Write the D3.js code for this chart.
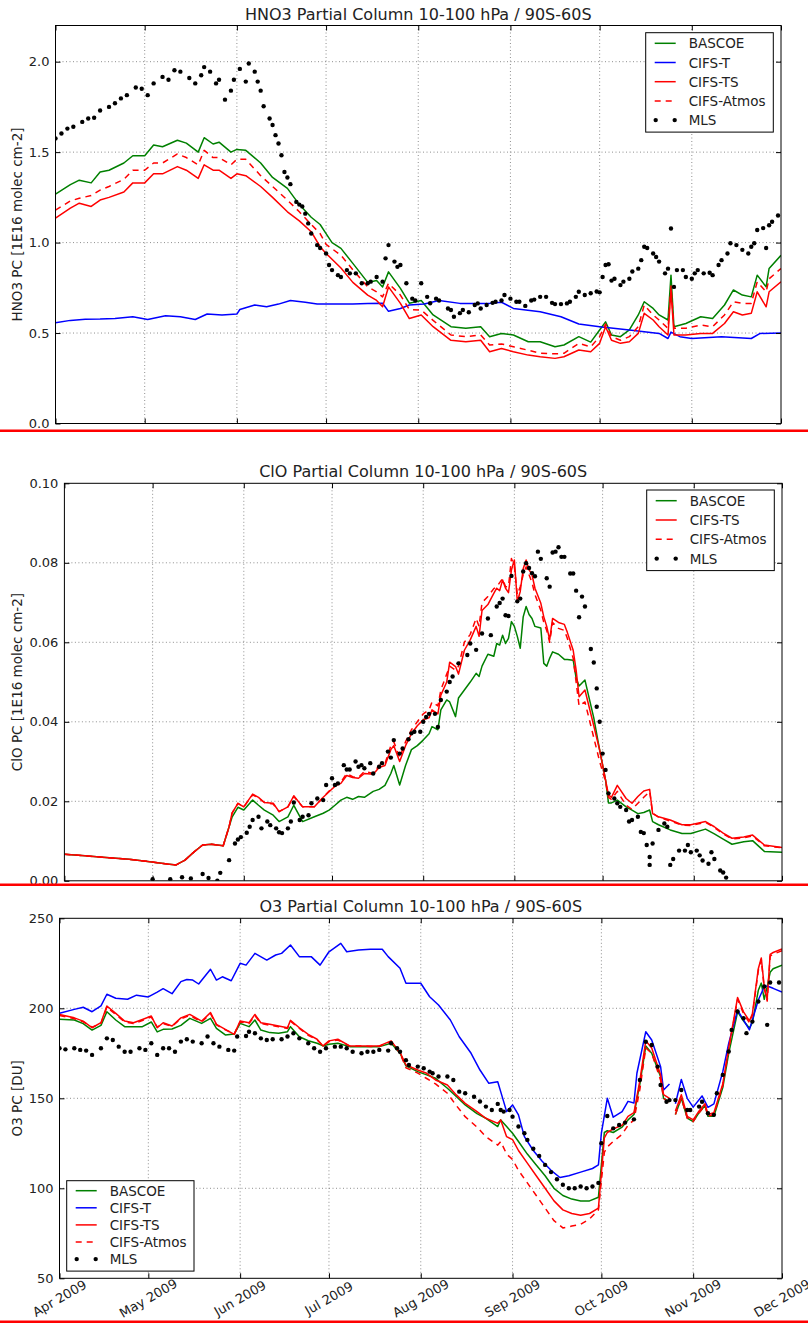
<!DOCTYPE html>
<html>
<head>
<meta charset="utf-8">
<script src="https://cdn.jsdelivr.net/npm/d3@7"></script>
<style>
  body { margin: 0; background: #fff; }
  svg text { font-family: "DejaVu Sans", sans-serif; fill: #222; }
</style>
</head>
<body>
<svg id="fig" width="808" height="1324"></svg>
<script>
// days are counted from 1 Apr 2009
var startDate = new Date(2009, 3, 1),
    endDate = new Date(2009, 11, 1);

// ---------- HNO3 ----------
var hno3Bascoe = [[0,1.268],[5,1.32],[8,1.345],[12,1.33],[15,1.39],[18,1.40],[23,1.44],[26,1.48],[30,1.48],[33,1.54],[36,1.53],[41,1.566],[44,1.55],[48,1.50],[50,1.58],[53,1.545],[55,1.555],[59,1.50],[61,1.515],[64,1.51],[69,1.44],[73,1.36],[78,1.30],[82,1.21],[86,1.14],[89,1.10],[91,1.05],[93,1.0],[96,0.968],[100,0.885],[105,0.78],[108,0.79],[110,0.755],[112,0.838],[116,0.747],[119,0.665],[123,0.68],[127,0.60],[133,0.535],[138,0.526],[143,0.535],[146,0.48],[150,0.498],[154,0.489],[159,0.452],[163,0.452],[168,0.424],[171,0.434],[176,0.48],[180,0.45],[183,0.517],[185,0.562],[187,0.489],[190,0.48],[193,0.517],[196,0.60],[198,0.673],[201,0.636],[203,0.60],[206,0.572],[207,0.82],[208,0.535],[212,0.553],[217,0.59],[221,0.581],[225,0.655],[228,0.738],[231,0.71],[234,0.70],[236,0.82],[239,0.755],[240,0.857],[244,0.93]];
var hno3CifsT = [[0,0.557],[5,0.57],[10,0.576],[15,0.577],[20,0.58],[26,0.59],[31,0.575],[37,0.595],[42,0.59],[47,0.575],[51,0.605],[56,0.60],[61,0.605],[62,0.63],[67,0.655],[71,0.645],[75,0.66],[79,0.68],[84,0.67],[88,0.66],[94,0.66],[100,0.66],[105,0.664],[110,0.665],[112,0.62],[116,0.636],[119,0.655],[124,0.66],[129,0.68],[136,0.664],[146,0.664],[150,0.67],[154,0.636],[163,0.618],[170,0.59],[176,0.55],[183,0.535],[193,0.517],[203,0.498],[206,0.47],[207,0.505],[210,0.48],[214,0.47],[224,0.48],[234,0.47],[237,0.498],[244,0.50]];
var hno3CifsTS = [[0,1.135],[5,1.19],[8,1.218],[12,1.20],[15,1.235],[18,1.25],[23,1.28],[26,1.33],[30,1.33],[33,1.38],[36,1.38],[41,1.42],[44,1.40],[48,1.355],[50,1.43],[53,1.40],[55,1.40],[59,1.355],[61,1.38],[64,1.37],[69,1.31],[73,1.25],[78,1.17],[82,1.12],[86,1.06],[89,0.977],[91,0.94],[96,0.86],[100,0.78],[105,0.71],[108,0.68],[110,0.645],[112,0.755],[116,0.664],[119,0.58],[123,0.60],[127,0.535],[133,0.46],[138,0.452],[143,0.46],[146,0.397],[150,0.415],[154,0.397],[159,0.378],[163,0.369],[168,0.36],[171,0.369],[176,0.406],[180,0.397],[183,0.443],[185,0.535],[187,0.46],[190,0.443],[193,0.452],[196,0.498],[198,0.609],[201,0.572],[203,0.535],[206,0.489],[207,0.738],[208,0.489],[212,0.489],[217,0.498],[221,0.498],[225,0.553],[228,0.618],[231,0.60],[234,0.609],[236,0.728],[239,0.645],[240,0.728],[244,0.783]];
var hno3CifsAtmos = [[0,1.18],[5,1.23],[8,1.245],[12,1.26],[15,1.29],[18,1.31],[23,1.35],[26,1.40],[30,1.40],[33,1.44],[36,1.44],[41,1.49],[44,1.47],[48,1.43],[50,1.51],[53,1.47],[55,1.47],[59,1.43],[61,1.46],[64,1.46],[69,1.37],[73,1.31],[78,1.235],[82,1.17],[86,1.10],[89,1.05],[91,0.99],[96,0.93],[100,0.85],[105,0.755],[108,0.728],[110,0.70],[112,0.775],[116,0.71],[119,0.63],[123,0.627],[127,0.57],[133,0.489],[138,0.48],[143,0.489],[146,0.434],[150,0.44],[154,0.424],[159,0.405],[163,0.388],[168,0.385],[171,0.388],[176,0.443],[180,0.424],[183,0.48],[185,0.55],[187,0.48],[190,0.46],[193,0.48],[196,0.535],[198,0.655],[201,0.60],[203,0.572],[206,0.526],[207,0.76],[208,0.526],[212,0.526],[217,0.544],[221,0.535],[225,0.60],[228,0.673],[231,0.664],[234,0.664],[236,0.783],[239,0.728],[240,0.80],[244,0.857]];
var hno3Mls = [[0,1.576],[2,1.603],[4,1.63],[6,1.64],[9,1.667],[11,1.686],[13,1.69],[15,1.73],[18,1.75],[20,1.77],[22,1.797],[24,1.815],[27,1.857],[29,1.85],[31,1.815],[33,1.88],[36,1.916],[38,1.90],[40,1.953],[42,1.945],[45,1.91],[47,1.88],[49,1.925],[50,1.97],[52,1.945],[54,1.88],[55,1.90],[57,1.79],[59,1.84],[60,1.90],[62,1.96],[64,1.89],[65,1.99],[67,1.945],[68,1.89],[69,1.84],[70,1.754],[72,1.686],[73,1.65],[74,1.594],[75,1.548],[76,1.483],[77,1.39],[78,1.36],[79,1.323],[81,1.225],[82,1.21],[83,1.20],[84,1.16],[85,1.106],[86,1.05],[88,0.986],[89,0.97],[91,0.94],[92,0.876],[93,0.848],[95,0.82],[96,0.81],[98,0.848],[99,0.83],[101,0.83],[103,0.775],[105,0.775],[106,0.784],[108,0.81],[110,0.784],[111,0.913],[112,0.986],[114,0.895],[115,0.866],[116,0.876],[118,0.775],[120,0.69],[121,0.68],[123,0.775],[125,0.70],[126,0.665],[128,0.69],[129,0.68],[132,0.636],[133,0.627],[134,0.59],[136,0.61],[137,0.627],[139,0.615],[141,0.655],[142,0.664],[143,0.636],[145,0.655],[147,0.667],[148,0.673],[150,0.68],[151,0.71],[153,0.69],[155,0.673],[156,0.673],[158,0.65],[160,0.68],[161,0.685],[163,0.70],[165,0.70],[167,0.667],[168,0.66],[170,0.66],[172,0.664],[173,0.673],[175,0.70],[176,0.728],[178,0.71],[180,0.72],[182,0.73],[183,0.725],[184,0.81],[185,0.876],[186,0.88],[187,0.79],[188,0.80],[190,0.765],[191,0.784],[193,0.80],[194,0.84],[196,0.856],[197,0.903],[198,0.977],[199,0.97],[201,0.94],[202,0.92],[203,0.895],[205,0.83],[206,0.856],[207,1.078],[208,0.755],[209,0.848],[211,0.848],[212,0.81],[214,0.80],[215,0.83],[216,0.848],[218,0.83],[220,0.833],[221,0.82],[223,0.876],[224,0.903],[226,0.94],[227,0.996],[229,0.986],[231,0.96],[233,0.94],[234,0.977],[235,0.996],[236,1.07],[238,1.08],[239,0.97],[240,1.096],[241,1.115],[243,1.15]];

// ---------- ClO ----------
var cloBascoe = [[0,0.0067],[7,0.0063],[13,0.0059],[22,0.0054],[27,0.005],[31,0.0046],[35,0.0042],[38,0.004],[41,0.0052],[44,0.0072],[47,0.009],[50,0.0092],[52,0.009],[54,0.0088],[56,0.0136],[57,0.016],[59,0.0185],[61,0.0178],[64,0.0203],[66,0.019],[68,0.0178],[71,0.0165],[73,0.0149],[76,0.0161],[78,0.019],[81,0.0149],[85,0.0161],[88,0.017],[90,0.0178],[92,0.019],[94,0.0203],[96,0.021],[98,0.0205],[100,0.0212],[102,0.021],[105,0.0225],[107,0.023],[109,0.024],[111,0.027],[112,0.029],[114,0.0241],[116,0.029],[118,0.033],[120,0.034],[122,0.0354],[124,0.037],[125,0.0388],[127,0.038],[128,0.043],[130,0.0455],[131,0.045],[133,0.0413],[134,0.046],[136,0.048],[138,0.05],[140,0.0522],[141,0.0514],[142,0.054],[144,0.057],[146,0.0565],[147,0.0597],[148,0.0593],[149,0.0618],[150,0.0597],[151,0.061],[152,0.0652],[153,0.064],[154,0.0615],[155,0.0585],[156,0.0664],[157,0.069],[158,0.067],[159,0.066],[160,0.064],[162,0.0636],[163,0.0547],[164,0.054],[165,0.056],[166,0.0576],[168,0.057],[170,0.0557],[171,0.0557],[173,0.0555],[174,0.051],[175,0.049],[177,0.0505],[180,0.041],[182,0.0329],[184,0.0254],[185,0.0196],[186,0.0196],[188,0.0203],[191,0.0186],[193,0.0178],[195,0.0169],[197,0.0172],[199,0.0178],[200,0.0149],[202,0.0141],[206,0.0128],[210,0.0119],[213,0.0119],[218,0.013],[221,0.0118],[224,0.0105],[227,0.0092],[231,0.0098],[234,0.0101],[238,0.0074],[244,0.0072]];
var cloCifsTS = [[0,0.0067],[7,0.0063],[13,0.0059],[22,0.0054],[27,0.005],[31,0.0046],[35,0.0042],[38,0.004],[41,0.0052],[44,0.0072],[47,0.009],[50,0.0092],[52,0.009],[54,0.0088],[56,0.0136],[57,0.017],[59,0.0195],[61,0.0186],[64,0.0218],[66,0.021],[68,0.0197],[71,0.0195],[73,0.0174],[76,0.0186],[78,0.0214],[81,0.0186],[85,0.0186],[88,0.021],[90,0.0224],[92,0.0238],[94,0.0245],[96,0.0265],[98,0.026],[100,0.0258],[102,0.027],[105,0.0268],[107,0.0285],[109,0.029],[111,0.033],[112,0.034],[114,0.030],[116,0.034],[118,0.037],[120,0.039],[122,0.0405],[124,0.041],[125,0.043],[127,0.042],[128,0.0467],[130,0.05],[131,0.055],[133,0.0539],[134,0.052],[136,0.058],[138,0.0606],[140,0.064],[141,0.0615],[142,0.068],[144,0.0695],[146,0.0723],[147,0.0736],[148,0.073],[149,0.0757],[150,0.0736],[151,0.0725],[152,0.0782],[153,0.0807],[154,0.0702],[155,0.0728],[156,0.0785],[157,0.0807],[158,0.0782],[159,0.077],[160,0.0736],[162,0.0698],[163,0.0664],[164,0.064],[165,0.0606],[166,0.066],[168,0.065],[170,0.0645],[171,0.0625],[173,0.058],[174,0.053],[175,0.0463],[177,0.048],[180,0.039],[182,0.0329],[184,0.0254],[185,0.0216],[186,0.021],[188,0.024],[191,0.0207],[193,0.0195],[195,0.0212],[197,0.0226],[199,0.023],[200,0.0169],[202,0.0161],[206,0.0153],[210,0.0141],[213,0.0141],[218,0.0149],[221,0.0136],[224,0.012],[227,0.0107],[231,0.011],[234,0.0115],[238,0.009],[244,0.0084]];
var cloCifsAtmos = [[0,0.0067],[7,0.0063],[13,0.0059],[22,0.0054],[27,0.005],[31,0.0046],[35,0.0042],[38,0.004],[41,0.0052],[44,0.0072],[47,0.009],[50,0.0092],[52,0.009],[54,0.0088],[56,0.0136],[57,0.017],[59,0.0195],[61,0.0186],[64,0.0216],[66,0.0208],[68,0.0197],[71,0.0193],[73,0.0174],[76,0.0186],[78,0.0212],[81,0.0186],[85,0.0186],[88,0.021],[90,0.0226],[92,0.024],[94,0.0248],[96,0.027],[98,0.0262],[100,0.026],[102,0.0275],[105,0.027],[107,0.029],[109,0.0295],[111,0.034],[112,0.035],[114,0.031],[116,0.035],[118,0.038],[120,0.04],[122,0.042],[124,0.043],[125,0.045],[127,0.044],[128,0.048],[130,0.052],[131,0.054],[133,0.053],[134,0.054],[136,0.06],[138,0.062],[140,0.066],[141,0.064],[142,0.07],[144,0.0715],[146,0.0735],[147,0.074],[148,0.075],[149,0.076],[150,0.074],[151,0.074],[152,0.0811],[153,0.079],[154,0.072],[155,0.074],[156,0.077],[157,0.079],[158,0.077],[159,0.075],[160,0.072],[162,0.068],[163,0.065],[164,0.063],[165,0.06],[166,0.065],[168,0.0635],[170,0.063],[171,0.061],[173,0.056],[174,0.05],[175,0.044],[177,0.045],[180,0.036],[182,0.030],[184,0.025],[185,0.021],[186,0.0205],[188,0.0225],[191,0.019],[193,0.018],[195,0.0195],[197,0.021],[199,0.0225],[200,0.017],[202,0.016],[206,0.015],[210,0.014],[213,0.0139],[218,0.0147],[221,0.0134],[224,0.0118],[227,0.0105],[231,0.0108],[234,0.0113],[238,0.0088],[244,0.0083]];
var cloMls = [[30,0.0004],[36,0.0004],[40,0.0009],[43,0.0006],[47,0.0017],[49,0.0007],[52,0.0],[53,0.002],[56,0.0052],[58,0.0094],[59,0.0104],[60,0.011],[62,0.0121],[63,0.0136],[64,0.0153],[66,0.0161],[67,0.0132],[69,0.0149],[70,0.014],[72,0.0132],[73,0.0122],[74,0.012],[76,0.0132],[77,0.0149],[78,0.0197],[80,0.0153],[81,0.0161],[83,0.0165],[84,0.0195],[86,0.0207],[88,0.0203],[89,0.0241],[91,0.0258],[92,0.0241],[93,0.0245],[95,0.0291],[96,0.028],[97,0.028],[99,0.03],[100,0.0287],[101,0.0291],[102,0.0283],[104,0.0296],[105,0.027],[107,0.0287],[108,0.0296],[110,0.0325],[111,0.031],[112,0.0354],[114,0.032],[115,0.0333],[117,0.0356],[118,0.0371],[119,0.0375],[121,0.0375],[122,0.040],[123,0.0412],[124,0.042],[126,0.042],[127,0.0387],[128,0.0455],[130,0.0476],[131,0.05],[132,0.0514],[134,0.0547],[137,0.0568],[138,0.0597],[140,0.0581],[142,0.0622],[144,0.066],[145,0.0618],[147,0.069],[148,0.0699],[149,0.071],[150,0.0668],[151,0.0666],[152,0.0767],[154,0.0703],[155,0.071],[156,0.0778],[157,0.0799],[158,0.0787],[159,0.0774],[160.7,0.0766],[161.5,0.0828],[162.6,0.081],[164,0.0761],[165.8,0.074],[166.5,0.0826],[167.6,0.0828],[168.3,0.0839],[169.4,0.0815],[170.9,0.0815],[172.3,0.0773],[173.8,0.0773],[174.2,0.073],[175.3,0.0663],[176,0.0715],[177,0.069],[179,0.0583],[180,0.0549],[181,0.0484],[181.5,0.0438],[182.3,0.040],[183.2,0.032],[184.5,0.0279],[185.8,0.022],[187.2,0.0207],[188.4,0.0195],[189.8,0.0186],[191,0.0178],[192.3,0.0149],[193.7,0.0153],[195.1,0.0161],[196.3,0.0123],[197.6,0.012],[198.6,0.009],[199.3,0.006],[199.8,0.004],[200.7,0.0094],[202.4,0.0128],[204.2,0.0144],[205.6,0.0136],[206.8,0.004],[207.7,0.0055],[209.5,0.0076],[211.2,0.0076],[212.6,0.009],[213.8,0.0072],[215.1,0.0076],[216.5,0.0064],[217.9,0.0051],[219.1,0.0043],[220.5,0.0072],[221.7,0.0055],[223,0.0026],[224.4,0.0021],[225.3,0.0008]];

// ---------- O3 ----------
var o3Bascoe = [[0,193.9],[5,193.5],[8,191.5],[11,187.9],[14,190.5],[16,198.1],[19,193.5],[22,189.8],[25,189.8],[28,189.8],[31,192.4],[33,186.9],[35,188.3],[38,188.5],[41,190.5],[44,194.4],[48,191.6],[51,194.4],[53,188.9],[56,185.2],[59,185.7],[61,191.6],[64,189.8],[66,193.5],[68,187.9],[71,186.5],[74,186.1],[77,187],[78,189.8],[81,184.2],[84,182],[87,180.6],[89,179.1],[91,180],[94,180.6],[98,178.7],[102,178.7],[105,178.7],[108,178.7],[112,180.6],[115,175],[117,168],[121,164.8],[124,163],[127,161.1],[131,155.6],[134,151],[137,146.3],[141,141.5],[144,138.9],[148,134.3],[149,138],[151,134.3],[153,130.6],[155,126],[158,119],[161,113],[164,107],[167,100],[170,96],[173,94],[176,93],[179,93],[182,95],[184,131],[185,132],[187,131],[190,134],[192,138],[194,141],[196,158],[198,179],[200,175],[203,162],[204,150],[206,148],[207,null],[208,141],[210,150],[212,139],[214,137],[216,142],[218,146],[219,140],[221,140],[224,156],[226,175],[229,198],[231,193],[233,189],[234,192],[236,210],[237,214],[238,205],[239,212],[240,220],[241,222],[244,224]];
var o3CifsT = [[0,197.2],[5,199.4],[8,200.6],[11,198.1],[14,201.3],[16,207.8],[19,205.6],[23,205],[26,207.3],[30,206.3],[33,209],[35,210.9],[38,208.1],[41,214.8],[43,216],[45,215.7],[47,213.5],[51,221.7],[53,215.7],[55,217.5],[58,215.3],[61,225],[63,224],[66,230.5],[70,226.8],[73,229.6],[75,230.5],[78,235.2],[81,228.7],[85,228.7],[88,224],[91,231.4],[95,236.1],[97,231.4],[101,232.4],[105,232.8],[109,232.8],[111,228.7],[115,222.2],[117,213.9],[120,213.9],[122,213.9],[125,206.4],[128,201.8],[132,193.5],[135,184.2],[139,175],[142,165.7],[145,158.3],[148,159.2],[149,153.7],[151,142.6],[153,146.3],[155,140.8],[157,128.7],[160,121],[163,115],[166,110],[169,106],[172,107],[176,109],[180,111],[182,113],[183,130.6],[185,150],[187,139.5],[190,142.6],[192,148.3],[194,147.4],[195,163.9],[198,187],[200,182.4],[203,167.6],[204,154.6],[206,158],[207,null],[208,147],[210,160.5],[212,150],[214,145.1],[217,151.3],[219,145],[221,146.9],[224,164.8],[226,180.5],[229,199],[231,193.5],[233,188],[234,193.5],[236,204.6],[238,212],[239,212.4],[241,211.1],[244,209]];
var o3CifsTS = [[0,196.5],[5,194.7],[8,192.9],[11,189.2],[14,192],[16,201.3],[19,197.2],[22,192.9],[25,192],[28,193.8],[31,195.7],[33,189.2],[35,192],[38,190.2],[41,194.7],[44,196.6],[48,192.9],[51,197.6],[53,191.1],[56,188.3],[59,185.5],[61,192.9],[64,192],[66,196.6],[68,192],[71,191.1],[74,190.2],[77,189.2],[78,193.3],[81,189.2],[84,185.5],[87,182.8],[89,179.1],[91,181.9],[94,182.8],[98,179.1],[102,179.1],[105,179.1],[108,179.1],[112,181.9],[115,175.5],[117,168.5],[121,165.7],[124,163.9],[127,160.2],[131,157.4],[134,151.9],[137,147.2],[141,142.6],[144,138.9],[148,136.1],[149,138],[151,128.7],[153,127],[155,121],[158,114],[161,107],[164,100],[167,93],[170,88],[173,86],[176,85],[179,86],[182,89],[184,128],[185,131],[187,133],[190,135],[192,140],[194,142],[196,160],[198,182],[200,178],[203,163],[204,152],[206,150],[207,null],[208,143],[210,152],[212,140],[214,138],[216,143],[218,147],[219,141],[221,142],[224,158],[226,178],[229,206],[231,198],[233,193],[234,197],[236,222],[237,228],[238,212],[239,205],[240,230],[241,231],[244,233]];
var o3CifsAtmos = [[0,196],[5,194.2],[8,192.5],[11,189.5],[14,191.6],[16,200.6],[19,196.6],[22,192.4],[25,191.5],[28,193.2],[31,195.2],[33,189.6],[35,191.5],[38,190],[41,194.2],[44,196],[48,192.4],[51,197],[53,190.8],[56,188],[59,185.8],[61,192.4],[64,191.5],[66,196],[68,191.6],[71,190.6],[74,189.8],[77,188.8],[78,192.8],[81,188.8],[84,185],[87,182.4],[89,179],[91,181.5],[94,182.4],[98,179],[102,179],[105,178.8],[108,178.9],[112,181.5],[115,175],[117,167],[121,164],[124,161],[127,158],[131,152.8],[134,146],[137,139.8],[141,134],[144,128.7],[148,124],[149,126],[151,119],[153,116],[155,110],[158,103],[161,96],[164,89],[167,82],[170,78],[173,79],[176,80],[179,83],[182,88],[184,120],[185,123],[187,126],[190,130],[192,135],[194,138],[196,155],[198,178],[200,175],[203,160],[204,150],[206,147],[207,null],[208,141],[210,150],[212,139],[214,137],[216,142],[218,146],[219,140],[221,141],[224,157],[226,177],[229,205],[231,197],[233,192],[234,196],[236,221],[237,227],[238,211],[239,204],[240,229],[241,230],[244,232]];
var o3Mls = [[0,177.8],[2,177.2],[5,177.8],[7,176.9],[9,176.5],[11,174.1],[14,177.8],[16,183.3],[18,182.4],[20,178.7],[22,175.9],[24,175.9],[27,177.8],[29,176.9],[31,180.6],[33,174.1],[35,177.8],[37,177.8],[39,175.9],[41,181.5],[43,182.8],[45,181.5],[48,180.6],[50,184.3],[52,180.6],[54,178.7],[57,176.9],[59,176.5],[60,184.3],[63,184.6],[64,187],[66,186.1],[68,183.3],[70,182.4],[72,182.8],[75,182.8],[77,184.3],[79,186.1],[81,183.3],[84,180.6],[86,177.8],[88,175.9],[90,177.8],[93,178.7],[95,178.7],[97,177.8],[99,175.9],[102,175],[104,175.9],[106,175.9],[108,176.9],[111,176.5],[112,180.6],[114,177.8],[115,175.9],[117,171.2],[118,168.5],[121,167.6],[123,166.7],[125,164.8],[126,163.9],[128,162.1],[131,162.1],[133,160.2],[135,153.7],[137,152.8],[140,150.9],[142,148.2],[144,145.4],[146,143.5],[148,146.9],[149,143.5],[150,142.6],[152,143.5],[153,139.8],[155,134.3],[157,130.6],[158,126.9],[160,122],[162,118],[164,113],[166,109],[168,105],[170,102],[172,100],[174,100],[176,101],[178,100],[180,101],[182,103],[183,125],[185,140.2],[187,133.3],[189,135.2],[191,136.5],[194,138.3],[196,160.2],[198,181.4],[200,179.6],[202,167.6],[203,157.4],[205,148.1],[206,149],[208,149],[210,154.6],[212,143.5],[213,143.5],[216,145.4],[217,148.1],[219,141.7],[221,140.8],[222,152.8],[224,163],[226,176],[227,188],[229,198.2],[231,194.5],[232,186.2],[234,192.6],[236,203.8],[238,212.1],[239,190.8],[240,214.3],[243,214.3]];

var GREEN = "#008000", BLUE = "#0000ff", RED = "#ff0000";

var svg = d3.select("#fig");
svg.append("rect").attr("width", 808).attr("height", 1324).attr("fill", "#fff");

function toDate(d) { return d3.timeDay.offset(startDate, d); }

function drawPanel(p) {
  var x = d3.scaleTime().domain([startDate, endDate]).range([p.left, p.right]);
  var y = d3.scaleLinear().domain(p.yDomain).range([p.bottom, p.top]);
  var g = svg.append("g");
  var w = p.right - p.left, h = p.bottom - p.top;
  var months = x.ticks(d3.timeMonth.every(1));

  g.append("clipPath").attr("id", "clip" + p.id)
    .append("rect").attr("x", p.left).attr("y", p.top).attr("width", w).attr("height", h);

  // dotted grid
  var grid = g.append("g").attr("stroke", "#000").attr("stroke-width", 0.8)
    .attr("stroke-dasharray", "1,2.5").attr("opacity", 0.55);
  grid.selectAll(".gx").data(months.slice(1, -1)).enter().append("line")
    .attr("x1", function(d) { return x(d); }).attr("x2", function(d) { return x(d); })
    .attr("y1", p.top).attr("y2", p.bottom);
  grid.selectAll(".gy").data(p.yTicks.filter(function(v) { return v > p.yDomain[0] && v < p.yDomain[1]; }))
    .enter().append("line")
    .attr("x1", p.left).attr("x2", p.right)
    .attr("y1", function(d) { return y(d); }).attr("y2", function(d) { return y(d); });

  // data
  var plot = g.append("g").attr("clip-path", "url(#clip" + p.id + ")");
  var line = d3.line()
    .defined(function(d) { return d[1] != null; })
    .x(function(d) { return x(toDate(d[0])); })
    .y(function(d) { return y(d[1]); });

  p.series.forEach(function(s) {
    if (s.dots) {
      plot.append("g").selectAll("circle").data(s.data).enter().append("circle")
        .attr("cx", function(d) { return x(toDate(d[0])); })
        .attr("cy", function(d) { return y(d[1]); })
        .attr("r", 2.2).attr("fill", "#000");
    } else {
      plot.append("path").datum(s.data)
        .attr("d", line).attr("fill", "none")
        .attr("stroke", s.color).attr("stroke-width", 1.5)
        .attr("stroke-linejoin", "round")
        .attr("stroke-dasharray", s.dash ? "6,5" : null);
    }
  });

  // axes with inward ticks on all four sides
  var fmt = d3.format(p.yFormat);
  var left = g.append("g").attr("transform", "translate(" + p.left + ",0)")
    .call(d3.axisLeft(y).tickValues(p.yTicks).tickFormat(fmt).tickSizeInner(-5).tickSizeOuter(0).tickPadding(6));
  g.append("g").attr("transform", "translate(" + p.right + ",0)")
    .call(d3.axisRight(y).tickValues(p.yTicks).tickFormat("").tickSizeInner(-5).tickSizeOuter(0));
  g.append("g").attr("transform", "translate(0," + p.top + ")")
    .call(d3.axisTop(x).tickValues(months).tickFormat("").tickSizeInner(-5).tickSizeOuter(0));
  var bottom = g.append("g").attr("transform", "translate(0," + p.bottom + ")")
    .call(d3.axisBottom(x).tickValues(months).tickFormat("").tickSizeInner(-5).tickSizeOuter(0));
  g.selectAll(".domain").remove();
  g.selectAll(".tick line").attr("stroke", "#000");
  left.selectAll("text").attr("font-size", 13).attr("font-family", "DejaVu Sans").style("fill", "#222");

  if (p.xLabels) {
    g.append("g").selectAll("text").data(months).enter().append("text")
      .attr("transform", function(d) { return "translate(" + x(d) + "," + (p.bottom + 20) + ") rotate(-30)"; })
      .attr("text-anchor", "middle").attr("dominant-baseline", "central")
      .attr("font-size", 13)
      .text(d3.timeFormat("%b %Y"));
  }

  // frame
  g.append("rect").attr("x", p.left).attr("y", p.top).attr("width", w).attr("height", h)
    .attr("fill", "none").attr("stroke", "#000").attr("stroke-width", 1);

  // title and y label
  g.append("text").attr("x", (p.left + p.right) / 2).attr("y", p.top - 6)
    .attr("text-anchor", "middle").attr("font-size", 16).text(p.title);
  g.append("text")
    .attr("transform", "translate(22," + ((p.top + p.bottom) / 2) + ") rotate(-90)")
    .attr("text-anchor", "middle").attr("font-size", 13.5).text(p.yLabel);

  // legend
  var L = p.legend;
  var lg = g.append("g");
  lg.append("rect").attr("x", L.x).attr("y", L.y).attr("width", L.w)
    .attr("height", L.first + (p.series.length - 1) * L.step + 12)
    .attr("fill", "#fff").attr("stroke", "#000").attr("stroke-width", 1);
  p.series.forEach(function(s, i) {
    var cy = L.y + L.first + i * L.step;
    if (s.dots) {
      lg.append("circle").attr("cx", L.x + 10).attr("cy", cy).attr("r", 2.2).attr("fill", "#000");
      lg.append("circle").attr("cx", L.x + 29).attr("cy", cy).attr("r", 2.2).attr("fill", "#000");
    } else {
      lg.append("line").attr("x1", L.x + 9).attr("x2", L.x + 30).attr("y1", cy).attr("y2", cy)
        .attr("stroke", s.color).attr("stroke-width", 1.5)
        .attr("stroke-dasharray", s.dash ? "6,5" : null);
    }
    lg.append("text").attr("x", L.x + 43).attr("y", cy).attr("dominant-baseline", "central")
      .attr("font-size", 13.5).text(s.name);
  });
}

drawPanel({
  id: 1, left: 55.5, right: 781, top: 25.5, bottom: 423.5,
  yDomain: [0, 2.2], yTicks: [0, 0.5, 1.0, 1.5, 2.0], yFormat: ".1f",
  title: "HNO3 Partial Column 10-100 hPa / 90S-60S",
  yLabel: "HNO3 PC [1E16 molec cm-2]",
  legend: { x: 645.7, y: 32.7, w: 127.6, first: 10.6, step: 19.2 },
  series: [
    { name: "BASCOE", data: hno3Bascoe, color: GREEN },
    { name: "CIFS-T", data: hno3CifsT, color: BLUE },
    { name: "CIFS-TS", data: hno3CifsTS, color: RED },
    { name: "CIFS-Atmos", data: hno3CifsAtmos, color: RED, dash: true },
    { name: "MLS", data: hno3Mls, dots: true }
  ]
});

drawPanel({
  id: 2, left: 64.4, right: 782, top: 483.3, bottom: 880.8,
  yDomain: [0, 0.1], yTicks: [0, 0.02, 0.04, 0.06, 0.08, 0.10], yFormat: ".2f",
  title: "ClO Partial Column 10-100 hPa / 90S-60S",
  yLabel: "ClO PC [1E16 molec cm-2]",
  legend: { x: 646.7, y: 490, w: 127.6, first: 10.7, step: 19.3 },
  series: [
    { name: "BASCOE", data: cloBascoe, color: GREEN },
    { name: "CIFS-TS", data: cloCifsTS, color: RED },
    { name: "CIFS-Atmos", data: cloCifsAtmos, color: RED, dash: true },
    { name: "MLS", data: cloMls, dots: true }
  ]
});

drawPanel({
  id: 3, left: 59.5, right: 782, top: 918.3, bottom: 1278.3,
  yDomain: [50, 250], yTicks: [50, 100, 150, 200, 250], yFormat: "d",
  title: "O3 Partial Column 10-100 hPa / 90S-60S",
  yLabel: "O3 PC [DU]",
  xLabels: true,
  legend: { x: 66.7, y: 1180.7, w: 127.3, first: 10, step: 17.1 },
  series: [
    { name: "BASCOE", data: o3Bascoe, color: GREEN },
    { name: "CIFS-T", data: o3CifsT, color: BLUE },
    { name: "CIFS-TS", data: o3CifsTS, color: RED },
    { name: "CIFS-Atmos", data: o3CifsAtmos, color: RED, dash: true },
    { name: "MLS", data: o3Mls, dots: true }
  ]
});

// red separators between the panels
svg.append("g").selectAll("line").data([430.8, 884.7, 1321.8]).enter().append("line")
  .attr("x1", 0).attr("x2", 808)
  .attr("y1", function(d) { return d; }).attr("y2", function(d) { return d; })
  .attr("stroke", RED).attr("stroke-width", 2.5);
</script>
</body>
</html>
